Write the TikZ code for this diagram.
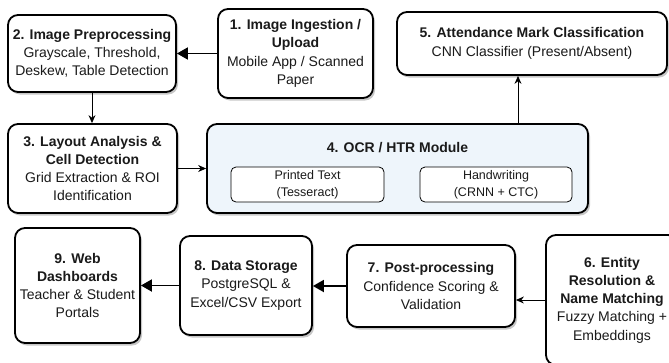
\documentclass[tikz,border=0pt]{standalone}
\usepackage{fontspec}
\setmainfont{Liberation Sans}
\usetikzlibrary{arrows.meta,shadows}
\definecolor{ocrfill}{HTML}{EEF5FB}
\definecolor{txt}{HTML}{1A1A1A}
\begin{document}
\begin{tikzpicture}[x=1pt,y=-1pt,
  box/.style={draw, line width=1.8pt, rounded corners=10pt, fill=white, align=center, inner sep=0pt,
    text=txt, font=\fontsize{14}{18.3}\selectfont,
    drop shadow={shadow xshift=2pt,shadow yshift=-2.5pt,opacity=0.22,fill=black}},
  innerbox/.style={draw, line width=0.8pt, rounded corners=5pt, fill=white, align=center, inner sep=0pt,
    text=txt, font=\fontsize{12.5}{16.8}\selectfont},
  thickarrow/.style={line width=1.8pt, -{Triangle[length=11pt,width=12pt]}},
  thinarrow/.style={line width=0.9pt, -{Stealth[length=8pt,width=7pt]}},
]
\useasboundingbox (0,0) rectangle (669,362);

\node[box, minimum width=155pt, minimum height=89pt] (n1) at (295.5,53.5)
  {\textbf{1. Image Ingestion /}\\\textbf{Upload}\\Mobile App / Scanned\\Paper};
\node[box, minimum width=168pt, minimum height=77pt] (n2) at (92,53.5)
  {\textbf{2. Image Preprocessing}\\Grayscale, Threshold,\\Deskew, Table Detection};
\node[box, minimum width=270pt, minimum height=63pt] (n5) at (532,43.5)
  {\textbf{5. Attendance Mark Classification}\\CNN Classifier (Present/Absent)};
\node[box, minimum width=169pt, minimum height=89pt] (n3) at (92.5,168.5)
  {\textbf{3. Layout Analysis \&}\\\textbf{Cell Detection}\\Grid Extraction \& ROI\\Identification};
\node[box, fill=ocrfill, minimum width=381pt, minimum height=89pt] (n4) at (397.5,168.5) {};
\node[text=txt, font=\fontsize{14}{18.3}\selectfont\bfseries, inner sep=0pt] (n4t) at (397.5,148) {4. OCR / HTR Module};
\node[innerbox, minimum width=153pt, minimum height=35pt] (n4a) at (307.5,184.5) {Printed Text\\(Tesseract)};
\node[innerbox, minimum width=152pt, minimum height=35pt] (n4b) at (496,184.5) {Handwriting\\(CRNN + CTC)};

\node[box, minimum width=132pt, minimum height=130pt] (n6) at (612,300)
  {\textbf{6. Entity}\\\textbf{Resolution \&}\\\textbf{Name Matching}\\Fuzzy Matching +\\Embeddings};
\node[box, minimum width=168pt, minimum height=82pt] (n7) at (431,286)
  {\textbf{7. Post-processing}\\Confidence Scoring \&\\Validation};
\node[box, minimum width=132pt, minimum height=99pt] (n8) at (246,285.5)
  {\textbf{8. Data Storage}\\PostgreSQL \&\\Excel/CSV Export};
\node[box, minimum width=125pt, minimum height=115pt] (n9) at (77.5,285.5)
  {\textbf{9. Web}\\\textbf{Dashboards}\\Teacher \& Student\\Portals};

\coordinate (c45) at (518,0);

\draw[thickarrow] (n1.west) -- (n2.east);
\draw[thinarrow] (n2.south) -- (n2.south |- n3.north);
\draw[thinarrow] (n3.east) -- (n4.west);
\draw[thinarrow] (n4.north -| c45) -- (n5.south -| c45);
\draw[thinarrow] (n6.west) -- (n6.west -| n7.east);
\draw[thickarrow] (n7.west) -- (n7.west -| n8.east);
\draw[thickarrow] (n8.west) -- (n9.east);
\end{tikzpicture}
\end{document}
